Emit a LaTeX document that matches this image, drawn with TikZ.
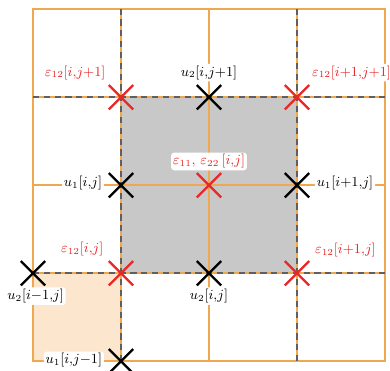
\documentclass[tikz,border=0pt]{standalone}
\usepackage{amsmath,amssymb}
\usetikzlibrary{shapes.misc}
\definecolor{gridorange}{RGB}{240,168,80}
\definecolor{cellgray}{RGB}{200,200,200}
\definecolor{cellpeach}{RGB}{253,230,206}
\definecolor{dashgray}{RGB}{95,95,95}
\definecolor{epsred}{RGB}{232,40,40}
\tikzset{
  gridline/.style={gridorange,line width=1pt},
  staggered/.style={dashgray,line width=1pt,dash pattern=on 4pt off 3pt},
  xmark/.style={cross out,draw,line width=1.5pt,minimum size=0.5cm,inner sep=0pt},
  redmark/.style={xmark,draw=epsred},
  blackmark/.style={xmark,draw=black},
  lbl/.style={font=\small,fill=white,rounded corners=2pt,inner sep=1.2pt},
}

\begin{document}
\begin{tikzpicture}[scale=2]
  \useasboundingbox (-0.375,-0.1) rectangle (4.057,4.105);
  \fill[cellgray] (1,1) rectangle (3,3);
  \fill[cellpeach] (0,0) rectangle (1,1);
  \draw[gridline] (0,0) rectangle (4,4);
  \draw[gridline] (1,0) -- (1,4);
  \draw[gridline] (2,0) -- (2,4);
  \draw[gridline] (3,0) -- (3,4);
  \draw[gridline] (0,1) -- (4,1);
  \draw[gridline] (0,2) -- (4,2);
  \draw[gridline] (0,3) -- (4,3);
  \draw[staggered] (1,0) -- (1,4);
  \draw[staggered] (3,0) -- (3,4);
  \draw[staggered] (0,1) -- (4,1);
  \draw[staggered] (0,3) -- (4,3);

  % shear strains at the corners, normal strains in the middle
  \node[redmark] (e12ij1) at (1,3) {};
  \node[redmark] (e12i1j1) at (3,3) {};
  \node[redmark] (e12ij) at (1,1) {};
  \node[redmark] (e12i1j) at (3,1) {};
  \node[redmark] (eij) at (2,2) {};

  % displacements on the faces
  \node[blackmark] (u2ij1) at (2,3) {};
  \node[blackmark] (u1ij) at (1,2) {};
  \node[blackmark] (u1i1j) at (3,2) {};
  \node[blackmark] (u2im1j) at (0,1) {};
  \node[blackmark] (u2ij) at (2,1) {};
  \node[blackmark] (u1ijm1) at (1,0) {};

  \node[lbl,text=epsred] (le12ij1) at (0.48,3.28) {$\varepsilon_{12}[i{,}j{+}1]$};
  \node[lbl] (lu2ij1) at (2,3.28) {$u_2[i{,}j{+}1]$};
  \node[lbl,text=epsred] (le12i1j1) at (3.62,3.28) {$\varepsilon_{12}[i{+}1{,}j{+}1]$};
  \node[lbl,text=epsred] (leij) at (2,2.27) {$\varepsilon_{11},\,\varepsilon_{22}\,[i{,}j]$};
  \node[lbl,anchor=east] (lu1ij) at (0.81,2.02) {$u_1[i{,}j]$};
  \node[lbl,anchor=west] (lu1i1j) at (3.2,2.02) {$u_1[i{+}1{,}j]$};
  \node[lbl,text=epsred] (le12ij) at (0.56,1.27) {$\varepsilon_{12}[i{,}j]$};
  \node[lbl,text=epsred] (le12i1j) at (3.55,1.26) {$\varepsilon_{12}[i{+}1{,}j]$};
  \node[lbl] (lu2im1j) at (0.03,0.74) {$u_2[i{-}1{,}j]$};
  \node[lbl] (lu2ij) at (2,0.74) {$u_2[i{,}j]$};
  \node[lbl,anchor=east] (lu1ijm1) at (0.81,0.01) {$u_1[i{,}j{-}1]$};
\end{tikzpicture}
\end{document}
